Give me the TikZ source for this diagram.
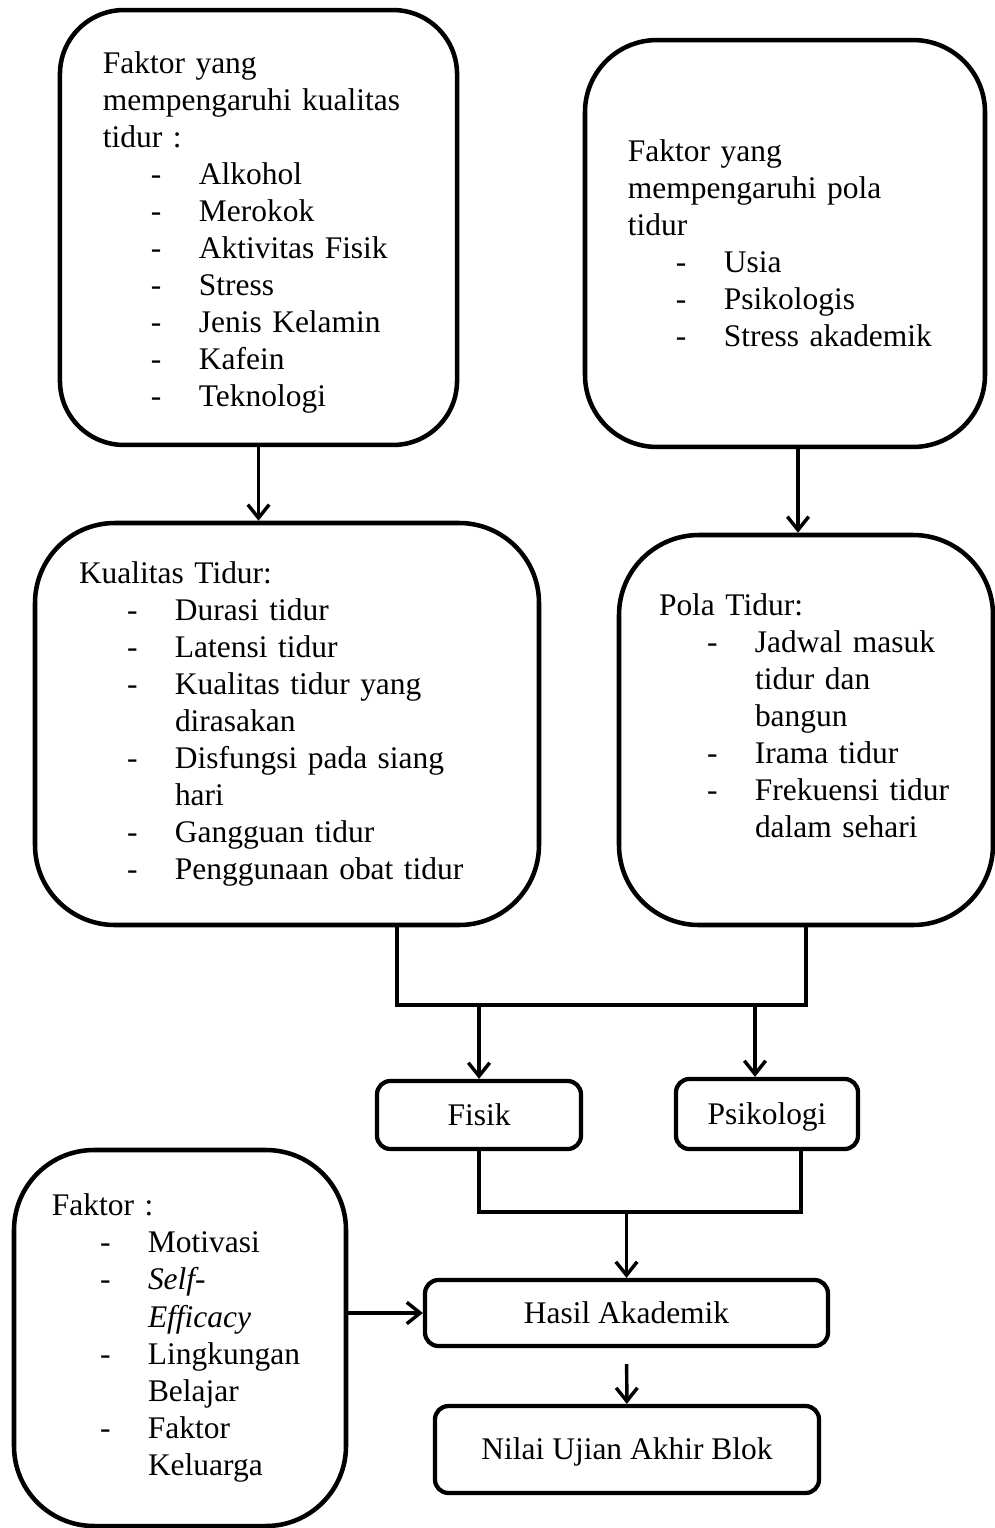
\documentclass[tikz,border=0pt]{standalone}
\usepackage{fontspec}
\setmainfont{Liberation Serif}
\usetikzlibrary{arrows.meta}
\setlength{\parindent}{0pt}
\newcommand{\butir}[1]{\hspace*{18pt}\makebox[18pt][l]{-}\mbox{#1}}
\newcommand{\lanjut}[1]{\hspace*{36pt}\mbox{#1}}

\begin{document}
\begin{tikzpicture}
  [
  x = 0.375pt, y = -0.375pt,
  font = \fontsize{11.8}{13.9}\selectfont,
  % kotak kecil
  kotak/.style = {rectangle, rounded corners = 5pt,
    draw, line width = 1.6pt, align = center,
    text height = 0.9em, text depth = 0.12em},
  % kotak besar
  kotakbesar/.style = {rectangle, rounded corners = 28pt,
    draw, line width = 1.7pt, align = left},
  % line
  line/.style = {draw, line width = 1.3pt},
  panah/.style = {line, -{Straight Barb[length = 5pt, width = 8pt]}},
  ]
  \useasboundingbox (0,0) rectangle (995,1528);

  % nodes
  \node [kotakbesar, rounded corners = 24pt, minimum width = 148.9pt,
    minimum height = 163.1pt, inner xsep = 16.1pt, text width = 116.7pt]
    (kfak) at (258.5,227.5)
    {\mbox{}\\[-2.1pt]
     Faktor yang\\ mempengaruhi kualitas\\ tidur :\\
     \butir{Alkohol}\\ \butir{Merokok}\\ \butir{Aktivitas Fisik}\\
     \butir{Stress}\\ \butir{Jenis Kelamin}\\ \butir{Kafein}\\
     \butir{Teknologi}};
  \node [kotakbesar, rounded corners = 27pt, minimum width = 150pt,
    minimum height = 152.6pt, inner xsep = 16.1pt, text width = 117.8pt]
    (pfak) at (785,243.5)
    {Faktor yang\\ mempengaruhi pola\\ tidur\\
     \butir{Usia}\\ \butir{Psikologis}\\ \butir{Stress akademik}};
  \node [kotakbesar, rounded corners = 30pt, minimum width = 189pt,
    minimum height = 150.75pt, inner xsep = 16.5pt, text width = 156pt]
    (ktidur) at (287,724)
    {Kualitas Tidur:\\
     \butir{Durasi tidur}\\ \butir{Latensi tidur}\\
     \butir{Kualitas tidur yang}\\ \lanjut{dirasakan}\\
     \butir{Disfungsi pada siang}\\ \lanjut{hari}\\
     \butir{Gangguan tidur}\\ \butir{Penggunaan obat tidur}};
  \node [kotakbesar, rounded corners = 30pt, minimum width = 140.25pt,
    minimum height = 146.25pt, inner xsep = 15pt, text width = 110.25pt]
    (ptidur) at (806,730)
    {Pola Tidur:\\
     \butir{Jadwal masuk}\\ \lanjut{tidur dan}\\ \lanjut{bangun}\\
     \butir{Irama tidur}\\ \butir{Frekuensi tidur}\\
     \lanjut{dalam sehari}\\[-2.9pt]\mbox{}};
  \node [kotak, minimum width = 76.5pt, minimum height = 25.5pt]
    (fisik) at (479,1115) {Fisik};
  \node [kotak, minimum width = 68.25pt, minimum height = 26.25pt]
    (psiko) at (767,1114) {Psikologi};
  \node [kotak, minimum width = 151.1pt, minimum height = 24.75pt]
    (hasil) at (626.5,1313) {Hasil Akademik};
  \node [kotak, minimum width = 144pt, minimum height = 32.6pt]
    (nilai) at (627,1449.5) {Nilai Ujian Akhir Blok};
  \node [kotakbesar, rounded corners = 30pt, minimum width = 124.5pt,
    minimum height = 141pt, inner xsep = 14.25pt, text width = 96pt]
    (faktor) at (180,1338)
    {Faktor :\\
     \butir{Motivasi}\\ \butir{\textit{Self-}}\\ \lanjut{\textit{Efficacy}}\\
     \butir{Lingkungan}\\ \lanjut{Belajar}\\ \butir{Faktor}\\
     \lanjut{Keluarga}};

  % titik bantu
  \coordinate (bar1l) at (397,1005);
  \coordinate (bar1r) at (806,1005);
  \coordinate (bar2l) at (479,1212);
  \coordinate (bar2r) at (801,1212);
  \coordinate (pin) at ([xshift = -3pt]ptidur.north);
  \coordinate (psin) at ([xshift = -4.5pt]psiko.north);

  % path
  \path [panah] (kfak.south) -- (kfak.south |- ktidur.north);
  \path [panah] (pfak.south -| pin) -- (pin);
  \path [line] (ktidur.south -| bar1l) -- (bar1l) -- (bar1r) -- (ptidur.south);
  \path [panah] (fisik |- bar1l) -- (fisik.north);
  \path [panah] (psin |- bar1l) -- (psin);
  \path [line] (fisik.south) -- (bar2l) -- (bar2r) -- (bar2r |- psiko.south);
  \path [panah] (hasil |- bar2l) -- (hasil.north);
  \path [panah] (faktor.east |- hasil) -- (hasil.west);
  \path [panah, shorten <= 6pt] (hasil) -- (nilai);

\end{tikzpicture}
\end{document}
